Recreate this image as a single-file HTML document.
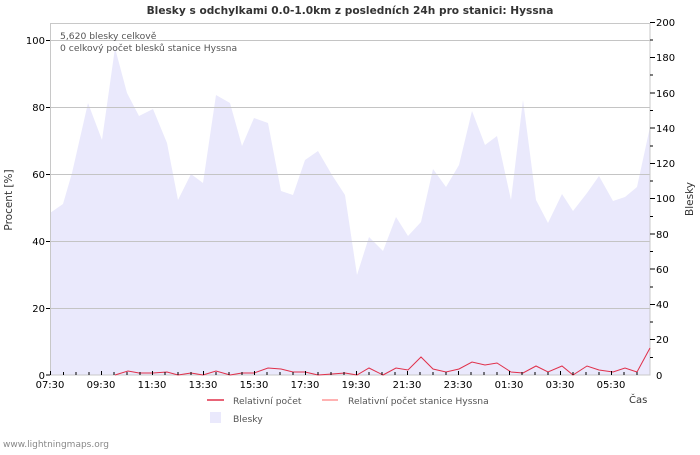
<!DOCTYPE html>
<html><head><meta charset="utf-8"><style>
body{margin:0;background:#fff}
svg text{font-family:"DejaVu Sans","Liberation Sans",sans-serif}
</style></head><body>
<svg width="700" height="450" xmlns="http://www.w3.org/2000/svg">
<rect width="700" height="450" fill="#fff"/>
<text x="350" y="14" text-anchor="middle" font-size="10.6" font-weight="bold" fill="#333">Blesky s odchylkami 0.0-1.0km z posledních 24h pro stanici: Hyssna</text>
<polygon fill="#eae9fc" points="50,375 50,213 63,204 72,173 88,103 102,140 115,48 127,93 139,116 153,109 167,143 178,200 191,174 203,183 216,95 230,103 242,146 254,118 268,123 281,191 293,195 305,160 318,151 332,175 345,195 357,275 369,237 383,251 396,217 408,236 421,222 433,169 446,187 459,165 472,111 485,145 497,136 511,200 523,100 536,200 548,223 562,194 573,211 587,193 599,176 613,201 625,197 637,187 650,127 650,375"/>
<g stroke="#c4c4c4" stroke-width="1">
<line x1="50" y1="40.5" x2="650" y2="40.5"/><line x1="50" y1="107.5" x2="650" y2="107.5"/><line x1="50" y1="174.5" x2="650" y2="174.5"/><line x1="50" y1="241.5" x2="650" y2="241.5"/><line x1="50" y1="308.5" x2="650" y2="308.5"/>
</g>
<rect x="50.5" y="23.5" width="599.5" height="351.5" fill="none" stroke="#c8c8c8"/>
<polyline fill="none" stroke="#e0304a" stroke-width="1" points="115,375 128,371 139,373 153,373 167,372 178,375 191,373 203,375 216,371 230,375 242,373 254,373 268,368 281,369 293,372 305,372 318,375 332,374 345,373 357,375 369,368 383,375 396,368 408,370 421,357 433,369 446,372 459,369 472,362 485,365 497,363 511,372 523,373 536,366 548,372 562,366 573,375 587,366 599,370 613,372 625,368 637,372 650,348"/>
<g stroke="#000" stroke-width="1">
<path d="M50.5,375V371M63.5,375V372M76,375V372M89,375V372M101.5,375V371M114,375V372M127,375V372M140,375V372M152.5,375V371M165,375V372M178,375V372M191,375V372M203.5,375V371M216,375V372M229,375V372M242,375V372M254.5,375V371M267,375V372M280,375V372M293,375V372M305.5,375V371M318,375V372M331,375V372M344,375V372M356.5,375V371M369,375V372M382,375V372M395,375V372M407.5,375V371M420,375V372M433,375V372M446,375V372M458.5,375V371M471,375V372M484,375V372M497,375V372M509.5,375V371M522,375V372M535,375V372M548,375V372M560.5,375V371M573,375V372M586,375V372M599,375V372M611.5,375V371M624,375V372M637,375V372"/>
<path d="M46,40.5H50M46,107.5H50M46,174.5H50M46,241.5H50M46,308.5H50M46,375H50"/>
<path d="M650,22.5h5M650,40h3M650,57.5h5M650,75h3M650,93h5M650,110.5h3M650,128h5M650,146h3M650,163.5h5M650,181h3M650,198.5h5M650,216.5h3M650,234h5M650,251.5h3M650,269h5M650,287h3M650,304.5h5M650,322h3M650,339.5h5M650,357.5h3"/>
</g>
<g font-size="10" fill="#000" text-anchor="end">
<text x="45" y="44">100</text><text x="45" y="111">80</text><text x="45" y="178">60</text><text x="45" y="245">40</text><text x="45" y="312">20</text><text x="45" y="379">0</text>
</g>
<g font-size="10" fill="#000">
<text x="656" y="26">200</text><text x="656" y="61">180</text><text x="656" y="97">160</text><text x="656" y="132">140</text><text x="656" y="167">120</text><text x="656" y="202">100</text><text x="656" y="238">80</text><text x="656" y="273">60</text><text x="656" y="308">40</text><text x="656" y="343">20</text><text x="656" y="379">0</text>
</g>
<g font-size="10" fill="#000" text-anchor="middle">
<text x="50" y="388">07:30</text><text x="101" y="388">09:30</text><text x="152" y="388">11:30</text><text x="203" y="388">13:30</text><text x="254" y="388">15:30</text><text x="305" y="388">17:30</text><text x="356" y="388">19:30</text><text x="407" y="388">21:30</text><text x="458" y="388">23:30</text><text x="509" y="388">01:30</text><text x="560" y="388">03:30</text><text x="611" y="388">05:30</text>
</g>
<text x="629" y="403" font-size="10" fill="#333">Čas</text>
<text transform="translate(12,200) rotate(-90)" font-size="10.5" fill="#333" text-anchor="middle">Procent   [%]</text>
<text transform="translate(693,199) rotate(-90)" font-size="10.5" fill="#333" text-anchor="middle">Blesky</text>
<text x="60" y="39" font-size="9.2" fill="#555">5,620 blesky celkově</text>
<text x="60" y="51" font-size="9.2" fill="#555">0 celkový počet blesků stanice Hyssna</text>
<line x1="207" y1="400" x2="224" y2="400" stroke="#e0304a" stroke-width="1.5"/>
<text x="233" y="404" font-size="9.2" fill="#555">Relativní počet</text>
<line x1="322" y1="400" x2="338" y2="400" stroke="#ff9898" stroke-width="1.5"/>
<text x="348" y="404" font-size="9.2" fill="#555">Relativní počet stanice Hyssna</text>
<rect x="210" y="412" width="11" height="11" fill="#eae9fc"/>
<text x="233" y="422" font-size="9.2" fill="#555">Blesky</text>
<text x="3" y="447" font-size="9" fill="#888">www.lightningmaps.org</text>
</svg>
</body></html>
